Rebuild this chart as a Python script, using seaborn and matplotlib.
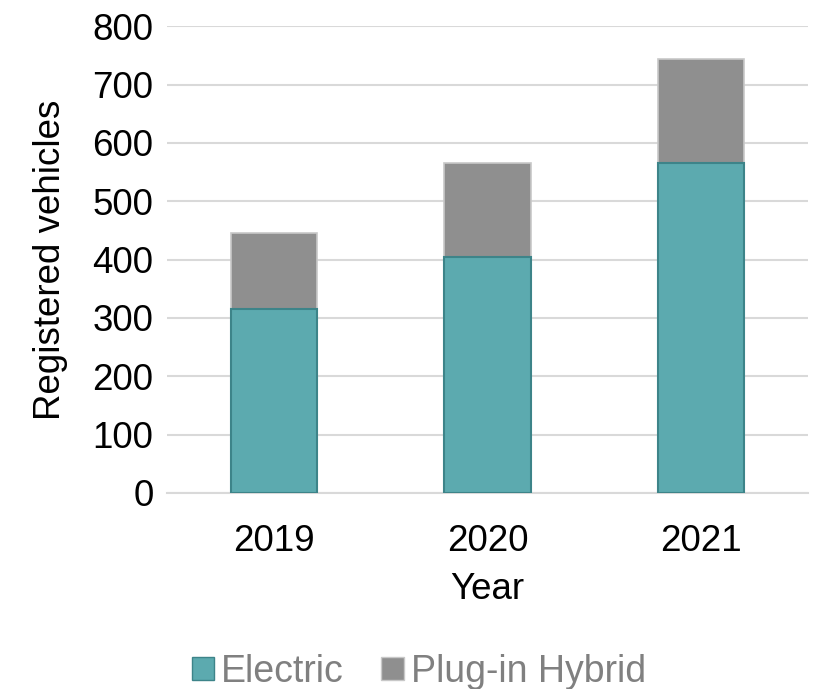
import numpy as np
import pandas as pd
import matplotlib
matplotlib.use("Agg")
import matplotlib.pyplot as plt
import seaborn as sns
from matplotlib.patches import Patch

# Datos
years = ["2019", "2020", "2021"]
electric = [315, 405, 565]
plugin_hybrid = [130, 160, 178]

df = pd.DataFrame({"Year": years, "Electric": electric, "Plug-in Hybrid": plugin_hybrid})
df["Total"] = df["Electric"] + df["Plug-in Hybrid"]

teal = "#5caaaf"
teal_edge = "#3d8489"
grey = "#8f8f8f"
grey_edge = "#c8c8c8"

sns.set_style("white")
plt.rcParams["font.family"] = ["Liberation Sans", "DejaVu Sans"]

fig = plt.figure(figsize=(8.15, 6.89), dpi=100)
ax = fig.add_axes([0.2055, 0.2845, 0.7855, 0.6775])

# Barras apiladas: total en gris, eléctrico encima
sns.barplot(data=df, x="Year", y="Total", color=grey, width=0.405,
            edgecolor=grey_edge, linewidth=1.2, saturation=1, ax=ax, zorder=2)
sns.barplot(data=df, x="Year", y="Electric", color=teal, width=0.405,
            edgecolor=teal_edge, linewidth=1.5, saturation=1, ax=ax, zorder=3)

ax.set_ylim(0, 800)
ax.set_yticks(np.arange(0, 801, 100))
ax.set_xlim(-0.5, 2.5)
ax.yaxis.grid(True, color="#d9d9d9", linewidth=1.5, zorder=0)
ax.set_axisbelow(True)
for s in ["top", "right", "left"]:
    ax.spines[s].set_visible(False)
ax.spines["bottom"].set_color("#d9d9d9")
ax.spines["bottom"].set_linewidth(1.5)
ax.tick_params(axis="both", length=0, labelsize=26.5, colors="black")
ax.tick_params(axis="x", pad=22)
ax.tick_params(axis="y", pad=10)

ax.set_xlabel("Year", fontsize=26.5, labelpad=10, color="black")
ax.set_ylabel("Registered vehicles", fontsize=26.5, labelpad=18, color="black")

handles = [Patch(facecolor=teal, edgecolor=teal_edge, label="Electric"),
           Patch(facecolor=grey, edgecolor=grey_edge, label="Plug-in Hybrid")]
fig.legend(handles=handles, loc="lower center", bbox_to_anchor=(0.514, -0.05), ncol=2,
           frameon=False, fontsize=27, handlelength=0.59, handleheight=0.59,
           handletextpad=0.2, columnspacing=1.0, labelcolor="#808080")

fig.savefig("out.png", dpi=100)
